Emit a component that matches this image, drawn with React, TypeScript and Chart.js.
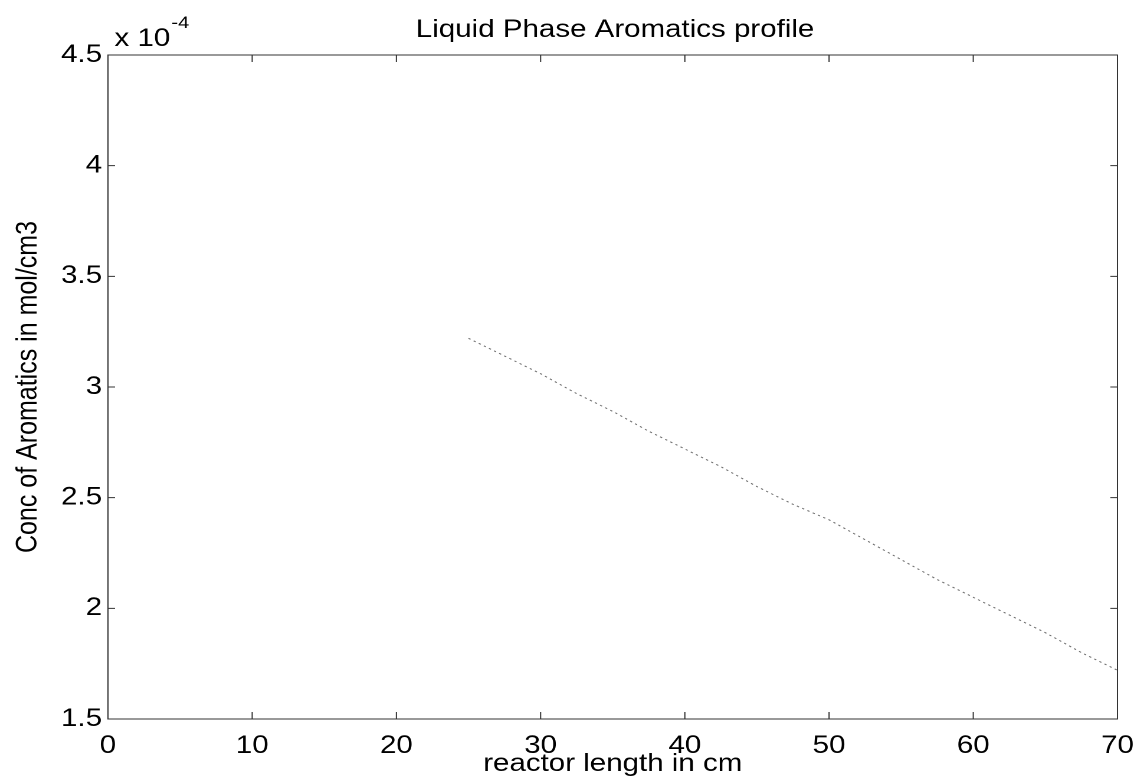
import React, { useEffect, useRef } from 'react';
import { Chart, registerables } from 'chart.js';

Chart.register(...registerables);

// Data (concentration in units of 1e-4 mol/cm3)
const reactorLength = [25, 27.5, 30, 32.5, 35, 37.5, 40, 42.5, 45, 47.5, 50, 52.5, 55, 57.5, 60, 62.5, 65, 67.5, 70];
const aromaticsConc = [3.22, 3.14, 3.06, 2.97, 2.89, 2.80, 2.72, 2.64, 2.55, 2.47, 2.40, 2.31, 2.22, 2.13, 2.05, 1.97, 1.89, 1.80, 1.72];
const xTicks = [0, 10, 20, 30, 40, 50, 60, 70];
const yTicks = [1.5, 2, 2.5, 3, 3.5, 4, 4.5];

const titleText = 'Liquid Phase Aromatics profile';
const xLabel = 'reactor length in cm';
const yLabel = 'Conc of Aromatics in mol/cm3';
const multiplierBase = 'x 10';
const multiplierExp = '-4';

const STRETCH = 1.18;
const FULL_W = 1135;
const FULL_H = 782;
const W = Math.round(FULL_W / STRETCH);
const FONT_FAMILY = '"Liberation Sans", Arial, Helvetica, sans-serif';

const matlabPlugin = {
  id: 'matlabBox',
  afterDraw(chart: any) {
    const { ctx, chartArea: a, scales } = chart;
    ctx.save();
    ctx.strokeStyle = '#333';
    ctx.lineWidth = 1;
    ctx.strokeRect(a.left, a.top, a.right - a.left, a.bottom - a.top);
    const tlV = 7;
    const tlH = 6;
    ctx.beginPath();
    xTicks.forEach((v) => {
      const px = scales.x.getPixelForValue(v);
      ctx.moveTo(px, a.bottom);
      ctx.lineTo(px, a.bottom - tlV);
      ctx.moveTo(px, a.top);
      ctx.lineTo(px, a.top + tlV);
    });
    yTicks.forEach((v) => {
      const py = scales.y.getPixelForValue(v);
      ctx.moveTo(a.left, py);
      ctx.lineTo(a.left + tlH, py);
      ctx.moveTo(a.right, py);
      ctx.lineTo(a.right - tlH, py);
    });
    ctx.stroke();

    ctx.fillStyle = '#000';
    ctx.textBaseline = 'alphabetic';
    ctx.textAlign = 'center';
    ctx.font = `25px ${FONT_FAMILY}`;
    ctx.fillText(titleText, (a.left + a.right) / 2 + 2, 37);

    ctx.textAlign = 'left';
    ctx.font = `25px ${FONT_FAMILY}`;
    const mx = 97;
    ctx.fillText(multiplierBase, mx, 46);
    const bw = ctx.measureText(multiplierBase).width;
    ctx.font = `17px ${FONT_FAMILY}`;
    ctx.fillText(multiplierExp, mx + bw + 1, 28);
    ctx.restore();
  },
};

export default function App() {
  const canvasRef = useRef<HTMLCanvasElement | null>(null);

  useEffect(() => {
    document.body.style.margin = '0';
    const canvas = canvasRef.current;
    if (!canvas) return;
    const font = { family: FONT_FAMILY, size: 25 };
    const chart = new Chart(canvas, {
      type: 'line',
      data: {
        datasets: [
          {
            data: reactorLength.map((x, i) => ({ x, y: aromaticsConc[i] })),
            borderColor: 'rgba(50,50,50,0.7)',
            borderWidth: 1,
            borderDash: [2, 3],
            pointRadius: 0,
            tension: 0,
            fill: false,
          },
        ],
      },
      options: {
        responsive: false,
        animation: false,
        devicePixelRatio: 2,
        layout: { padding: { top: 55, right: W - 947, left: 0, bottom: 0 } },
        plugins: {
          legend: { display: false },
          tooltip: { enabled: false },
          title: { display: false },
        },
        scales: {
          x: {
            type: 'linear',
            min: 0,
            max: 70,
            grid: { display: false, drawTicks: false },
            border: { display: false },
            afterBuildTicks: (s: any) => {
              s.ticks = xTicks.map((v) => ({ value: v }));
            },
            afterFit: (s: any) => {
              s.height = 63;
              s.paddingLeft = 0;
              s.paddingRight = 0;
            },
            ticks: {
              font,
              color: '#000',
              padding: 12,
              maxRotation: 0,
              autoSkip: false,
              callback: (v: any) => String(v),
            },
            title: {
              display: true,
              text: xLabel,
              font,
              color: '#000',
              padding: { top: 0, bottom: 3 },
            },
          },
          y: {
            type: 'linear',
            min: 1.5,
            max: 4.5,
            grid: { display: false, drawTicks: false },
            border: { display: false },
            afterBuildTicks: (s: any) => {
              s.ticks = yTicks.map((v) => ({ value: v }));
            },
            afterFit: (s: any) => {
              s.width = 91.5;
              s.paddingTop = 0;
              s.paddingBottom = 0;
            },
            ticks: {
              font,
              color: '#000',
              padding: 5,
              autoSkip: false,
              callback: (v: any) => String(v),
            },
            title: {
              display: true,
              text: yLabel,
              font,
              color: '#000',
              padding: { top: 9, bottom: 0 },
            },
          },
        },
      },
      plugins: [matlabPlugin],
    } as any);
    return () => chart.destroy();
  }, []);

  return (
    <div style={{ width: FULL_W, height: FULL_H, overflow: 'hidden', background: '#fff', position: 'relative' }}>
      <canvas
        ref={canvasRef}
        width={W}
        height={FULL_H}
        style={{ transform: `scaleX(${STRETCH})`, transformOrigin: '0 0', display: 'block' }}
      />
    </div>
  );
}
